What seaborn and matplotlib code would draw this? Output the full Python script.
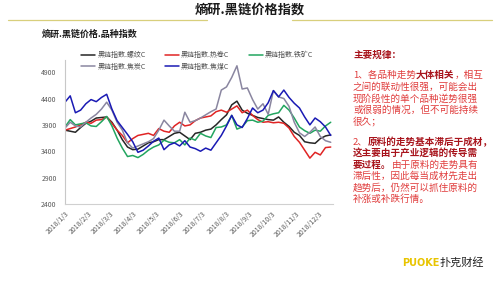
import numpy as np
import pandas as pd
import matplotlib
matplotlib.use('Agg')
import matplotlib.pyplot as plt
import seaborn as sns

# weekly readings (index value)
luowen = [3800, 3780, 3760, 3850, 3930, 3970, 4030, 4040, 4050, 3950, 3800, 3620, 3480,
          3430, 3440, 3500, 3560, 3580, 3620, 3620, 3680, 3740, 3760, 3690, 3620, 3740,
          3760, 3800, 3820, 3900, 4000, 4090, 4280, 4350, 4180, 4120, 4080, 4040, 4020,
          4000, 3990, 4050, 3950, 3870, 3760, 3700, 3580, 3560, 3550, 3640, 3690, 3710]
rejuan = [3800, 3830, 3860, 3900, 3950, 3930, 3990, 4000, 4050, 3930, 3800, 3700, 3560,
          3640, 3700, 3720, 3740, 3700, 3830, 3780, 3760, 3880, 3950, 3880, 3900, 3980,
          4030, 4050, 4070, 4150, 4180, 4140, 4200, 4260, 4130, 4180, 4080, 4000, 3950,
          3960, 3940, 3950, 3930, 3840, 3680, 3570, 3420, 3270, 3380, 3330, 3470, 3480]
tiekuang = [3860, 4000, 3900, 3920, 3940, 3880, 3870, 3960, 4060, 3880, 3650, 3460, 3300,
            3320, 3280, 3340, 3420, 3480, 3520, 3610, 3570, 3560, 3620, 3520, 3650, 3610,
            3740, 3690, 3660, 3850, 3860, 3900, 4080, 3820, 3860, 3980, 3990, 3950, 3970,
            4080, 4110, 4130, 4270, 4180, 4030, 3860, 3790, 3740, 3800, 3780, 3880, 3950]
jiaotan = [3840, 3950, 3880, 3860, 3950, 4030, 4100, 4200, 4330, 4180, 3950, 3800, 3560,
           3460, 3500, 3540, 3580, 3640, 3800, 3990, 3880, 3780, 3780, 4140, 3950, 3980,
           4030, 4090, 4150, 4200, 4560, 4620, 4800, 5020, 4580, 4600, 4380, 4200, 4300,
           4100, 4550, 4430, 4400, 4250, 3950, 3750, 3680, 3760, 3860, 3680, 3600, 3570]
jiaomei = [4330, 4450, 4130, 4180, 4300, 4380, 4340, 4420, 4480, 4200, 3980, 3850, 3720,
           3580, 3380, 3420, 3500, 3590, 3650, 3430, 3520, 3560, 3500, 3600, 3480, 3450,
           3400, 3460, 3420, 3560, 3700, 3880, 4080, 3900, 3850, 4020, 4220, 4130, 4180,
           4320, 4550, 4430, 4560, 4420, 4310, 4220, 4050, 3900, 4030, 3960, 3860, 3700]

names = ['黑链指数.螺纹C', '黑链指数.热卷C', '黑链指数.铁矿C', '黑链指数.焦炭C', '黑链指数.焦煤C']
colors = ['#262626', '#e02424', '#22a55f', '#8a86a0', '#1a1ab4']
tick_months = list(range(1, 13))

dates = pd.date_range('2018-01-03', '2018-12-19', periods=len(luowen))
frames = []
for name, vals in zip(names, [luowen, rejuan, tiekuang, jiaotan, jiaomei]):
    frames.append(pd.DataFrame({'date': dates, 'value': vals, 'series': name}))
df = pd.concat(frames, ignore_index=True)

sns.set_theme(style='white')
plt.rcParams['font.family'] = ['Noto Sans CJK SC', 'DejaVu Sans']

W, H = 501, 281
fig = plt.figure(figsize=(W / 100, H / 100), dpi=100)
fig.patch.set_facecolor('white')


def fx(px):
    return px / W


def fy(py):
    return 1 - py / H


ax = fig.add_axes([fx(65), fy(204), fx(333) - fx(65), fy(60) - fy(204)])
sns.lineplot(data=df, x='date', y='value', hue='series', palette=dict(zip(names, colors)),
             linewidth=1.1, ax=ax, legend=False)
ax.set_xlim(pd.Timestamp('2018-01-03'), pd.Timestamp('2018-12-22'))
ax.set_ylim(2400, 5130)
ax.set_yticks(range(2400, 5000, 500))
ax.set_xticks([pd.Timestamp(2018, m, 3) for m in tick_months])
ax.set_xticklabels([f'2018/{m}/3' for m in tick_months], rotation=45, ha='right',
                   rotation_mode='anchor')
ax.set_xlabel('')
ax.set_ylabel('')
ax.tick_params(axis='both', labelsize=5, colors='#595959', length=2, width=0.6, pad=2)
ax.tick_params(axis='y', length=0, pad=6)
for s in ['top', 'right']:
    ax.spines[s].set_visible(False)
ax.spines['left'].set_color('#c8c8c8')
ax.spines['bottom'].set_color('#d0d0d0')
ax.spines['left'].set_linewidth(0.8)
ax.spines['bottom'].set_linewidth(0.8)
ax.patch.set_alpha(0)

# legend (row-major order in 3 columns)
handles = [plt.Line2D([], [], color=c, lw=1.1) for c in colors]
order = [0, 3, 1, 4, 2]
fig.legend([handles[i] for i in order], [names[i] for i in order], ncol=3,
           loc='upper left', bbox_to_anchor=(fx(78), fy(48)), frameon=False,
           fontsize=5, handlelength=2.0, handletextpad=0.3, columnspacing=2.8,
           labelspacing=0.45, borderpad=0, labelcolor='#4d4d4d')

# header
fig.text(fx(250), fy(10), '熵研.黑链价格指数', ha='center', va='center',
         fontsize=9.5, fontweight='bold', color='#1a1a1a')
fig.add_artist(plt.Line2D([fx(8), fx(207)], [fy(19.5), fy(19.5)], color='#d8cf7c', lw=0.9))
fig.add_artist(plt.Line2D([fx(292), fx(492)], [fy(19.5), fy(19.5)], color='#d8cf7c', lw=0.9))
fig.text(fx(42), fy(34), '熵研.黑链价格.品种指数', ha='left', va='center',
         fontsize=6.5, fontweight='bold', color='#1a1a1a')

# right text block
fig.canvas.draw()
renderer = fig.canvas.get_renderer()
dark = '#a8141c'
light = '#e03c3c'


def rich_line(x, y, parts):
    cur = x
    for txt, bold, col in parts:
        t = fig.text(fx(cur), fy(y), txt, ha='left', va='center', fontsize=6.9,
                     fontweight='bold' if bold else 'normal', color=col)
        bb = t.get_window_extent(renderer)
        cur = bb.x1


lines = [
    (55, [('主要规律：', True, dark)]),
    (75, [('1、各品种走势', False, light), ('大体相关', True, dark), ('，相互', False, light)]),
    (87, [('之间的联动性很强，可能会出', False, light)]),
    (98.5, [('现阶段性的单个品种逆势很强', False, light)]),
    (110, [('或很弱的情况，但不可能持续', False, light)]),
    (121.5, [('很久；', False, light)]),
    (142, [('2、', False, light), ('原料的走势基本滞后于成材，', True, dark)]),
    (153.5, [('这主要由于产业逻辑的传导需', True, dark)]),
    (165, [('要过程。', True, dark), ('由于原料的走势具有', False, light)]),
    (176.5, [('滞后性，因此每当成材先走出', False, light)]),
    (188, [('趋势后，仍然可以抓住原料的', False, light)]),
    (199.5, [('补涨或补跌行情。', False, light)]),
]
for y, parts in lines:
    rich_line(353, y, parts)

# logo
fig.text(fx(402), fy(263), 'PUOKE', ha='left', va='center', fontsize=7,
         fontweight='bold', color='#e8c400', family=['DejaVu Sans'])
fig.text(fx(440), fy(263), '扑克财经', ha='left', va='center', fontsize=8,
         color='#222222', family=['Noto Sans CJK SC'])

fig.savefig('out.png', dpi=100, facecolor='white')
